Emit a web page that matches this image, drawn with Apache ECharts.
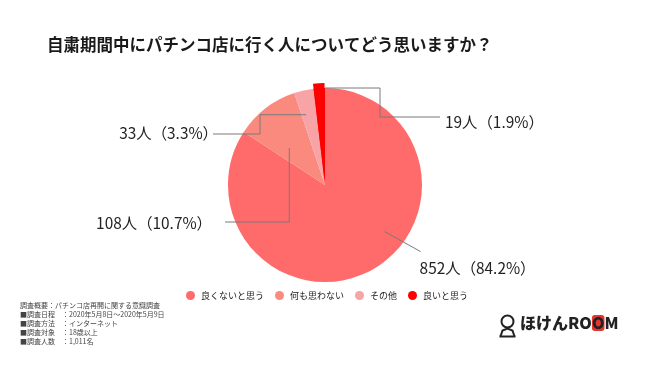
<!DOCTYPE html>
<html><head><meta charset="utf-8">
<script src="https://cdn.jsdelivr.net/npm/echarts@6/dist/echarts.min.js"></script>
<style>html,body{margin:0;padding:0;background:#fff}#c{width:650px;height:365px}</style>
</head><body><div id="c"></div>
<script>
const titleText = '自粛期間中にパチンコ店に行く人についてどう思いますか？';
const categories = ['良くないと思う', '何も思わない', 'その他', '良いと思う'];
const counts = [852, 108, 33, 19];
const percents = [84.2, 10.7, 3.3, 1.9];
const colors = ['#ff6a6a', '#fb8a7e', '#f8a4a6', '#ff0000'];
const notes = [
  '調査概要：パチンコ店再開に関する意識調査',
  '■調査日程　：2020年5月8日～2020年5月9日',
  '■調査方法　：インターネット',
  '■調査対象　：18歳以上',
  '■調査人数　：1,011名'
];

const FONT = '"Noto Sans CJK JP", "Noto Sans", sans-serif';
const CX = 325, CY = 185, R = 97;
function pt(deg, r) { const a = deg * Math.PI / 180; return [CX + r * Math.sin(a), CY - r * Math.cos(a)]; }

const baseData = categories.map((n, i) => ({ name: n, value: counts[i], itemStyle: { color: colors[i] } }));
const lastIdx = categories.length - 1;
const restSum = counts.slice(0, lastIdx).reduce((s, v) => s + v, 0);

const chart = echarts.init(document.getElementById('c'));
chart.setOption({
  backgroundColor: '#ffffff',
  animation: false,
  title: {
    text: titleText, left: 47, top: 36, padding: 0,
    textStyle: { fontFamily: FONT, fontSize: 16.5, fontWeight: 'bold', color: '#1a1a1a' }
  },
  color: colors,
  legend: {
    data: categories, left: 186, top: 291, padding: 0,
    icon: 'circle', itemWidth: 9, itemHeight: 9, itemGap: 11,
    textStyle: { fontFamily: FONT, fontSize: 9, color: '#222', padding: [0, 0, 0, 1] }
  },
  series: [
    {
      type: 'pie', z: 1, silent: true,
      center: [CX, CY], radius: R, startAngle: 90, clockwise: true,
      label: { show: false }, labelLine: { show: false },
      itemStyle: { borderWidth: 0 },
      data: baseData
    },
    {
      // exploded red slice
      type: 'pie', z: 2, silent: true, legendHoverLink: false,
      center: [CX - 0.5, CY - 4], radius: R + 1, startAngle: 90, clockwise: true,
      label: { show: false }, labelLine: { show: false },
      itemStyle: { borderWidth: 0 },
      data: [
        { name: '', value: restSum, itemStyle: { color: 'rgba(0,0,0,0)' } },
        { name: categories[lastIdx], value: counts[lastIdx], itemStyle: { color: colors[lastIdx] } }
      ]
    },
    {
      // labels and leader lines drawn above the pie
      type: 'pie', z: 3, silent: true, legendHoverLink: false,
      center: [CX, CY], radius: R, startAngle: 90, clockwise: true,
      avoidLabelOverlap: false,
      itemStyle: { color: 'rgba(0,0,0,0)', borderWidth: 0 },
      data: categories.map((n, i) => ({
        name: n, value: counts[i],
        label: { formatter: counts[i] + '人（' + percents[i] + '%）' }
      })),
      label: { show: true, position: 'outside', fontFamily: FONT, fontSize: 15.4, color: '#222' },
      labelLine: { show: true, lineStyle: { color: '#7a7a7a', width: 1 } },
      labelLayout: function (p) {
        const i = p.dataIndex;
        if (i === 0) {
          const a = pt(128, 0.78 * R);
          return { x: a[0] + 35, y: a[1] + 37, align: 'left', verticalAlign: 'middle',
            labelLinePoints: [a, [a[0] + 36, a[1] + 20]] };
        }
        if (i === 1) {
          const a = pt(-44, 0.53 * R);
          return { x: 212, y: 223, align: 'right', verticalAlign: 'middle',
            labelLinePoints: [a, [a[0], 222], [225, 222]] };
        }
        if (i === 2) {
          const a = pt(-15, 0.75 * R);
          return { x: 218, y: 133, align: 'right', verticalAlign: 'middle',
            labelLinePoints: [a, [260, a[1]], [260, 134], [213, 134]] };
        }
        const a = pt(0, R);
        return { x: 445, y: 122, align: 'left', verticalAlign: 'middle',
          labelLinePoints: [a, [380, a[1]], [380, 117], [440, 117]] };
      }
    }
  ],
  graphic: [
    {
      type: 'text', left: 20, top: 301,
      style: { text: notes.join('\n'), fontFamily: FONT, fontSize: 7, lineHeight: 9, fill: '#444' }
    },
    {
      type: 'group', left: 497, top: 313,
      children: [
        { type: 'circle', shape: { cx: 8, cy: 7, r: 6 }, style: { fill: 'none', stroke: '#222', lineWidth: 2 } },
        { type: 'polyline', shape: { points: [[1, 22], [3, 16], [8, 14], [13, 16], [15, 22]] }, style: { fill: 'none', stroke: '#222', lineWidth: 2 } },
        { type: 'line', shape: { x1: 0, y1: 22, x2: 16, y2: 22 }, style: { stroke: '#222', lineWidth: 2 } }
      ]
    },
    {
      type: 'text', left: 520, top: 315,
      style: {
        text: '{a|ほけん}{a|RO}{o|O}{a|M}',
        rich: {
          a: { fontFamily: FONT, fontSize: 16, fontWeight: 900, fill: '#222' },
          o: { fontFamily: FONT, fontSize: 16, fontWeight: 900, fill: '#222', backgroundColor: '#e53530', borderRadius: 3 }
        }
      }
    }
  ]
});
</script>
</body></html>
